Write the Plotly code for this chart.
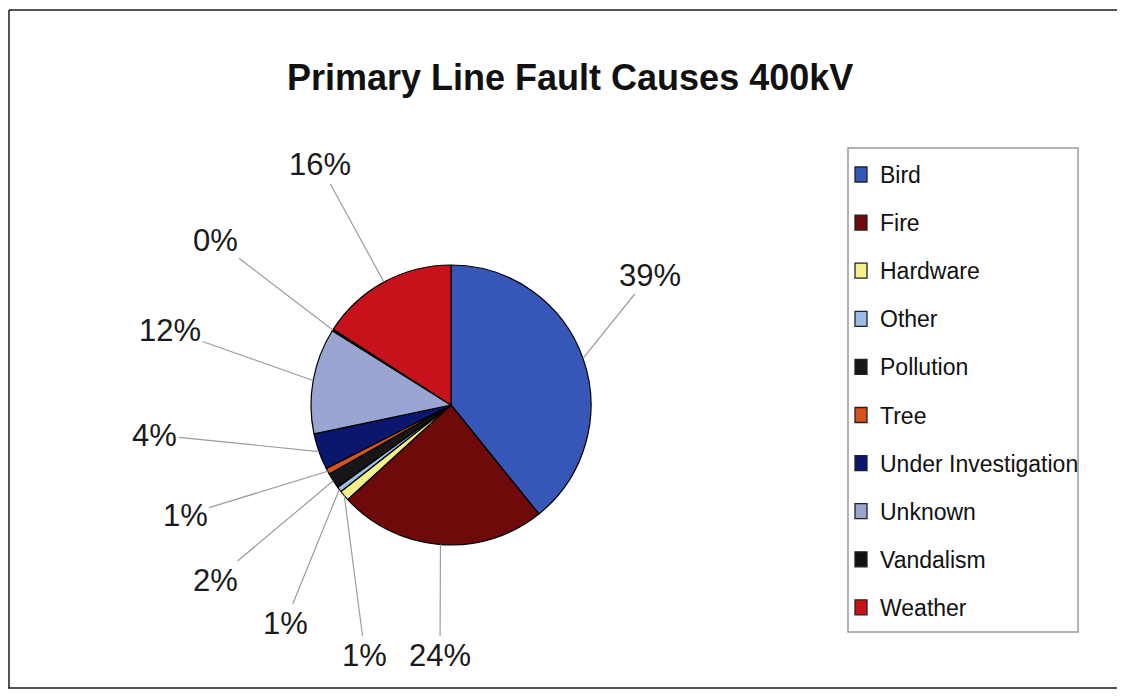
import math
import plotly.graph_objects as go

# Data (shares in %)
categories = ["Bird", "Fire", "Hardware", "Other", "Pollution", "Tree",
              "Under Investigation", "Unknown", "Vandalism", "Weather"]
shares = [39.2, 24.0, 1.2, 0.6, 1.8, 0.7, 4.2, 12.2, 0.2, 15.9]
colors = ["#3656B8", "#6E0A0A", "#F4F08A", "#9CBDE6", "#161616",
          "#D4531E", "#0B166E", "#9AA5D2", "#111111", "#C8121B"]

TITLE = "Primary Line Fault Causes 400kV"
FONT = "Liberation Sans, Arial, sans-serif"

# page geometry (pixels of the browser window); the page body has an 8px margin
WIN_W, WIN_H, OFF = 1125, 697, 8
W, H = WIN_W - 2 * OFF, WIN_H - 2 * OFF
CX, CY, R = 451, 405, 140
# where Excel placed each percentage label
LABEL_XY = [(650, 275), (440, 655), (365, 655), (285, 623), (215, 580),
            (185, 515), (155, 435), (170, 330), (215, 240), (320, 165)]


def px(x, y):
    return (x - OFF) / W, 1 - (y - OFF) / H


x0d, y1d = px(CX - R, CY - R)
x1d, y0d = px(CX + R, CY + R)
fig = go.Figure(go.Pie(
    labels=categories,
    values=shares,
    sort=False,
    direction="clockwise",
    rotation=0,
    marker=dict(colors=colors, line=dict(color="#000000", width=1.2)),
    textinfo="none",
    hoverinfo="label+percent",
    showlegend=False,
    domain=dict(x=[x0d, x1d], y=[y0d, y1d]),
))

# percentage labels with leader lines to the slice edges
total = sum(shares)
annotations = []
cum = 0.0
for v, (lx, ly) in zip(shares, LABEL_XY):
    mid = (cum + v / 2) / total * 2 * math.pi
    cum += v
    ex = CX + R * math.sin(mid)
    ey = CY - R * math.cos(mid)
    x, y = px(ex, ey)
    annotations.append(dict(
        x=x, y=y, xref="paper", yref="paper",
        ax=lx - ex, ay=ly - ey,
        text=f"{round(v / total * 100)}%",
        showarrow=True, arrowhead=0, arrowwidth=1.2, arrowcolor="#9c9c9c",
        font=dict(family=FONT, size=31, color="#1a1a1a"),
    ))

# legend drawn as a boxed list
shapes = []
lx0, ly1 = px(848, 148)
lx1, ly0 = px(1078, 632)
shapes.append(dict(type="rect", xref="paper", yref="paper",
                   x0=lx0, x1=lx1, y0=ly0, y1=ly1,
                   line=dict(color="#9a9a9a", width=1.5), fillcolor="white", layer="below"))
LEG_TOP, LEG_STEP = 175, 48.1
for i, (name, col) in enumerate(zip(categories, colors)):
    yc = LEG_TOP + i * LEG_STEP
    sx0, sy1 = px(855, yc - 8)
    sx1, sy0 = px(867, yc + 7)
    shapes.append(dict(type="rect", xref="paper", yref="paper",
                       x0=sx0, x1=sx1, y0=sy0, y1=sy1,
                       fillcolor=col, line=dict(color="#222222", width=1.3)))
    tx, ty = px(878, yc)
    annotations.append(dict(
        x=tx, y=ty, xref="paper", yref="paper",
        xanchor="left", yanchor="middle", showarrow=False, text=name,
        font=dict(family=FONT, size=23, color="#111111"),
    ))

# frame of the chart area
for (ax0, ay0, ax1, ay1) in [(9, 10, 1125, 10), (9, 10, 9, 688), (8, 688, 1125, 688)]:
    fx0, fy0 = px(ax0, ay0)
    fx1, fy1 = px(ax1, ay1)
    shapes.append(dict(type="line", xref="paper", yref="paper",
                       x0=fx0, y0=fy0, x1=fx1, y1=fy1,
                       line=dict(color="#1a1a1a", width=1.5)))

tx, ty = px(570, 77)
annotations.append(dict(
    x=tx, y=ty, xref="paper", yref="paper", showarrow=False,
    xanchor="center", yanchor="middle",
    text=f"<b>{TITLE}</b>", font=dict(family=FONT, size=36, color="#111111"),
))

fig.update_layout(
    width=W, height=H,
    margin=dict(l=0, r=0, t=0, b=0),
    paper_bgcolor="white",
    plot_bgcolor="white",
    annotations=annotations,
    shapes=shapes,
)

fig.write_html("out.html")
